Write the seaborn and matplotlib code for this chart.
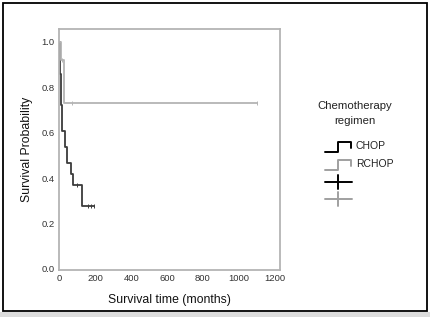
import pandas as pd
import seaborn as sns
import matplotlib.pyplot as plt
from matplotlib.lines import Line2D
from matplotlib.patches import Rectangle

# Kaplan-Meier step data
chop_time = [0, 2, 4, 6, 9, 12, 16, 30, 44, 61, 74, 123, 192]
chop_surv = [1.0, 0.93, 0.86, 0.79, 0.72, 0.66, 0.605, 0.536, 0.466, 0.417, 0.369, 0.278, 0.278]
chop_cens_time = [100, 159, 177, 192]
chop_cens_surv = [0.369, 0.278, 0.278, 0.278]

rchop_time = [0, 10, 24, 1100]
rchop_surv = [1.0, 0.92, 0.73, 0.73]
rchop_cens_time = [15, 72, 1100]
rchop_cens_surv = [0.92, 0.73, 0.73]

groups = ['CHOP', 'RCHOP']
colors = {'CHOP': '#3c3c3c', 'RCHOP': '#b4b4b4'}
x_ticks = [0, 200, 400, 600, 800, 1000, 1200]
y_ticks = [0.0, 0.2, 0.4, 0.6, 0.8, 1.0]

curves = pd.concat([
    pd.DataFrame({'time': chop_time, 'surv': chop_surv, 'regimen': 'CHOP'}),
    pd.DataFrame({'time': rchop_time, 'surv': rchop_surv, 'regimen': 'RCHOP'}),
])
censored = pd.concat([
    pd.DataFrame({'time': chop_cens_time, 'surv': chop_cens_surv, 'regimen': 'CHOP'}),
    pd.DataFrame({'time': rchop_cens_time, 'surv': rchop_cens_surv, 'regimen': 'RCHOP'}),
])

sns.set_style('white')
plt.rcParams['font.family'] = ['Liberation Sans', 'DejaVu Sans']

fig = plt.figure(figsize=(4.31, 3.17), dpi=100)
ax = fig.add_axes([0.137, 0.148, 0.513, 0.7605])

for g in groups:
    d = curves[curves.regimen == g]
    sns.lineplot(data=d, x='time', y='surv', drawstyle='steps-post', color=colors[g],
                 lw=1.3, ax=ax, legend=False, estimator=None, sort=False)
    c = censored[censored.regimen == g]
    sns.scatterplot(data=c, x='time', y='surv', marker='|', s=8, linewidth=0.7,
                    color=colors[g], ax=ax, legend=False)

ax.set_xlim(-3, 1232)
ax.set_ylim(-0.005, 1.056)
ax.set_xticks(x_ticks)
ax.set_xticklabels([str(t) for t in x_ticks])
ax.set_yticks(y_ticks)
ax.set_yticklabels(['%.1f' % t for t in y_ticks])
ax.tick_params(axis='both', labelsize=6.8, length=2, width=0.8, color='#a0a0a0',
               labelcolor='#333333', pad=1)
for s in ax.spines.values():
    s.set_color('#b4b4b4')
    s.set_linewidth(1.3)
ax.set_xlabel('Survival time (months)', fontsize=8.8, color='#111111', labelpad=8)
ax.set_ylabel('Survival Probability', fontsize=8.8, color='#111111', labelpad=6)

# legend drawn by hand, in figure pixels
W, H = 431, 317
def px(x, y):
    return x / W, 1 - y / H

fig.text(*px(355, 106), 'Chemotherapy', ha='center', va='center', fontsize=8.2, color='#222222')
fig.text(*px(355, 121), 'regimen', ha='center', va='center', fontsize=8.2, color='#222222')
for i, g in enumerate(groups):
    y0 = 151.5 + 18 * i
    col = 'black' if g == 'CHOP' else '#a0a0a0'
    xs = [325, 338, 338, 351.5, 351.5]
    ys = [y0, y0, y0 - 9.5, y0 - 9.5, y0 - 4]
    pts = [px(a, b) for a, b in zip(xs, ys)]
    fig.add_artist(Line2D([p[0] for p in pts], [p[1] for p in pts], color=col, lw=1.4))
    fig.text(*px(356, y0 - 5.5), g, ha='left', va='center', fontsize=7.5, color='#222222')
    yc = 181.5 + 17 * i
    a, b = px(325, yc), px(352, yc)
    fig.add_artist(Line2D([a[0], b[0]], [a[1], b[1]], color=col, lw=1.4))
    a, b = px(338.5, yc - 7), px(338.5, yc + 7)
    fig.add_artist(Line2D([a[0], b[0]], [a[1], b[1]], color=col, lw=1.4))

# outer frame and grey band at the bottom
fig.add_artist(Rectangle(px(0, 317), 1, 5 / H, transform=fig.transFigure,
                         facecolor='#dcdcdc', edgecolor='none'))
a = px(3, 311)
b = px(427, 3)
fig.add_artist(Rectangle(a, b[0] - a[0], b[1] - a[1], transform=fig.transFigure,
                         facecolor='none', edgecolor='black', lw=1.3))

fig.savefig('out.png', dpi=100)
